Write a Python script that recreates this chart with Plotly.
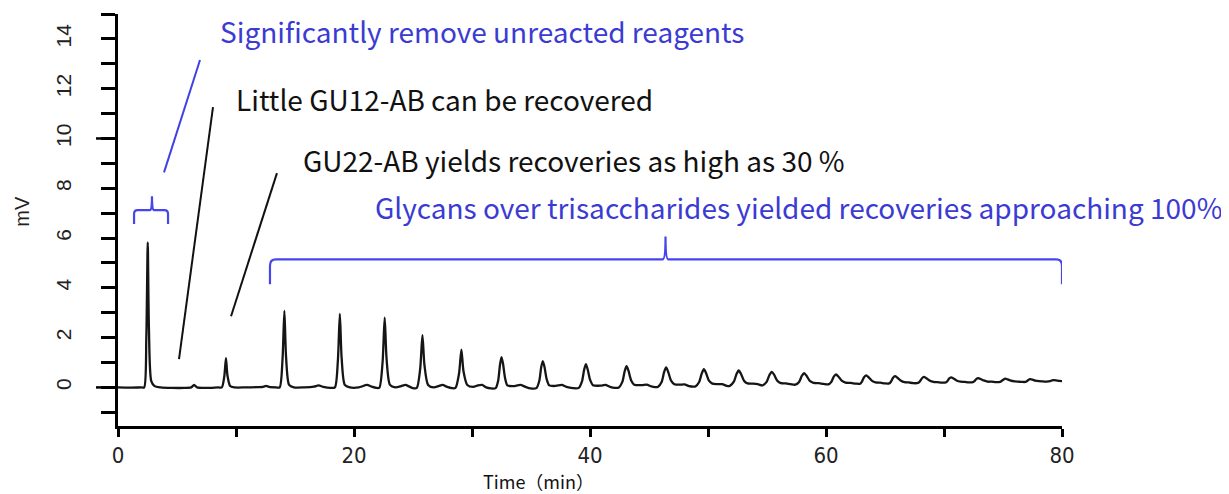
import plotly.graph_objects as go

# ---------------- data ----------------
time_min = [
    0.0, 1.0, 2.0,
    2.22, 2.40, 2.52, 2.62, 2.82, 3.1,
    3.6, 4.6, 5.6, 6.2, 6.45, 6.7, 7.6, 8.5,
    8.8, 9.01, 9.15, 9.27, 9.5, 9.85,
    10.8, 11.8, 12.3, 12.55, 12.8, 13.4,
    13.7, 13.94, 14.1, 14.24, 14.5, 14.9,
    15.8, 16.6, 17.0, 17.4, 18.0,
    18.38, 18.63, 18.8, 18.95, 19.22, 19.64,
    20.4, 21.1, 21.5, 21.9,
    22.15, 22.42, 22.6, 22.76, 23.05, 23.5,
    24.0, 24.35, 24.7, 25.0,
    25.32, 25.61, 25.8, 25.97, 26.28, 26.76,
    27.2, 27.5, 27.9, 28.3,
    28.6, 28.9, 29.1, 29.28, 29.6, 30.1,
    30.5, 30.85, 31.2, 31.6,
    32.0, 32.22, 32.37, 32.5, 32.63, 32.8, 33.0, 33.5, 34.1, 34.5, 34.95,
    35.45, 35.7, 35.86, 36.0, 36.14, 36.33, 36.55, 37.1, 37.6, 38.0, 38.55,
    39.05, 39.32, 39.5, 39.65, 39.8, 40.01, 40.25, 40.9, 41.3, 41.7, 42.1,
    42.45, 42.74, 42.94, 43.1, 43.26, 43.49, 43.75, 44.4, 44.8, 45.2, 45.5,
    45.75, 46.07, 46.28, 46.45, 46.62, 46.87, 47.15, 47.6, 48.0, 48.4, 48.75,
    48.93, 49.25, 49.47, 49.65, 49.83, 50.08, 50.37, 50.8, 51.2, 51.6,
    51.85, 52.19, 52.41, 52.6, 52.79, 53.05, 53.35, 53.8, 54.2, 54.55,
    54.62, 54.97, 55.2, 55.4, 55.6, 55.87, 56.18, 56.6, 57.0,
    57.4, 57.72, 57.95, 58.15, 58.35, 58.63, 58.95, 59.4, 59.8,
    60.25, 60.45, 60.66, 60.85, 61.05, 61.33, 61.65, 62.1, 62.55,
    62.9, 63.03, 63.21, 63.4, 63.6, 63.88, 64.2, 64.6, 65.0,
    65.35, 65.5, 65.67, 65.85, 66.05, 66.32, 66.65, 67.0, 67.4,
    67.8, 67.95, 68.12, 68.3, 68.5, 68.77, 69.1, 69.45, 69.8,
    70.15, 70.28, 70.43, 70.6, 70.8, 71.06, 71.4, 71.75, 72.1,
    72.45, 72.58, 72.73, 72.9, 73.1, 73.36, 73.7, 74.05, 74.4,
    74.75, 74.88, 75.03, 75.2, 75.4, 75.66, 76.0, 76.3, 76.6,
    76.9, 77.02, 77.15, 77.3, 77.5, 77.74, 78.05, 78.4, 78.7,
    79.0, 79.15, 79.3, 79.5, 79.75, 80.0,
]
signal_mv = [
    0.0, -0.01, 0.0,
    0.0, 2.0, 5.83, 2.4, 0.25, 0.05,
    0.0, -0.02, -0.02, 0.0, 0.1, 0.0, -0.02, 0.0,
    0.0, 0.45, 1.18, 0.5, 0.06, 0.0,
    0.0, 0.01, 0.02, 0.06, 0.02, 0.0,
    0.0, 1.1, 3.07, 1.25, 0.1, 0.0,
    0.0, 0.03, 0.08, 0.02, -0.02,
    0.0, 1.05, 2.95, 1.2, 0.1, 0.0,
    0.0, 0.1, 0.03, -0.02,
    -0.01, 1.0, 2.8, 1.15, 0.1, 0.0,
    0.05, 0.1, 0.03, -0.03,
    -0.02, 0.75, 2.1, 0.9, 0.1, 0.0,
    0.06, 0.1, 0.02, -0.03,
    -0.02, 0.55, 1.52, 0.65, 0.1, 0.02,
    0.08, 0.1, 0.0, -0.04,
    -0.03, 0.28, 0.90, 1.22, 0.95, 0.38, 0.08, 0.05, 0.10, 0.03, -0.04,
    -0.03, 0.26, 0.80, 1.06, 0.83, 0.33, 0.08, 0.06, 0.10, 0.02, -0.03,
    -0.02, 0.24, 0.70, 0.93, 0.73, 0.30, 0.09, 0.07, 0.10, 0.02, -0.02,
    0.00, 0.22, 0.65, 0.85, 0.67, 0.28, 0.11, 0.09, 0.11, 0.04, 0.01,
    0.02, 0.22, 0.61, 0.80, 0.63, 0.27, 0.13, 0.11, 0.12, 0.05, 0.03,
    0.04, 0.22, 0.56, 0.73, 0.58, 0.27, 0.15, 0.13, 0.13, 0.06,
    0.06, 0.23, 0.53, 0.68, 0.55, 0.27, 0.16, 0.15, 0.13, 0.08,
    0.08, 0.22, 0.49, 0.62, 0.51, 0.27, 0.17, 0.16, 0.13,
    0.11, 0.22, 0.46, 0.57, 0.47, 0.26, 0.18, 0.17, 0.14,
    0.13, 0.22, 0.43, 0.52, 0.44, 0.27, 0.19, 0.18, 0.15,
    0.15, 0.22, 0.40, 0.48, 0.41, 0.27, 0.20, 0.19, 0.16,
    0.16, 0.23, 0.38, 0.45, 0.39, 0.28, 0.21, 0.20, 0.17,
    0.18, 0.24, 0.36, 0.42, 0.37, 0.28, 0.22, 0.21, 0.19,
    0.20, 0.25, 0.35, 0.40, 0.36, 0.28, 0.23, 0.22, 0.20,
    0.21, 0.25, 0.33, 0.37, 0.34, 0.28, 0.23, 0.23, 0.21,
    0.22, 0.26, 0.31, 0.35, 0.32, 0.27, 0.24, 0.23, 0.22,
    0.22, 0.25, 0.30, 0.33, 0.31, 0.27, 0.25, 0.24, 0.23,
    0.25, 0.28, 0.29, 0.28, 0.26, 0.25,
]

x_tick_labels = ["0", "20", "40", "60", "80"]
y_tick_labels = ["0", "2", "4", "6", "8", "10", "12", "14"]

note_texts = [
    "Significantly remove unreacted reagents",
    "Little GU12-AB can be recovered",
    "GU22-AB yields recoveries as high as 30 %",
    "Glycans over trisaccharides yielded recoveries approaching 100%",
]
note_x = [8.5, 9.86, 15.54, 21.64]       # min (left edge)
note_y = [14.3, 11.58, 9.13, 7.24]       # mV (centre)
note_colors = ["#3b3bd3", "#111111", "#111111", "#3b3bd3"]

# leader lines (min, mV)
leader_x0 = [3.9, 5.17, 9.58]
leader_y0 = [8.64, 1.14, 2.86]
leader_x1 = [6.95, 8.05, 13.47]
leader_y1 = [13.15, 11.26, 8.61]
leader_colors = ["#4040e6", "#111111", "#111111"]

# braces (min, mV)
brace_small = dict(x_left=1.36, x_mid=2.88, x_right=4.24, y_foot=6.56, y_bar=7.12, y_tip=7.68)
brace_big = dict(x_left=12.88, x_mid=46.4, x_right=80.0, y_foot=4.14, y_bar=5.14, y_tip=6.06)

BLUE = "#4646ec"

fig = go.Figure()
fig.add_trace(go.Scatter(
    x=time_min, y=signal_mv, mode="lines",
    line=dict(color="#151515", width=2.3, shape="spline", smoothing=0.7),
    hoverinfo="skip",
))

for x0, y0, x1, y1, c in zip(leader_x0, leader_y0, leader_x1, leader_y1, leader_colors):
    fig.add_shape(type="line", xref="x", yref="y", x0=x0, y0=y0, x1=x1, y1=y1,
                  line=dict(color=c, width=2))


def brace_path(b, r):
    xl, xm, xr = b["x_left"], b["x_mid"], b["x_right"]
    yf, yb, yt = b["y_foot"], b["y_bar"], b["y_tip"]
    return (f"M{xl},{yf} L{xl},{yb - r} Q{xl},{yb} {xl + r * 2},{yb} "
            f"L{xm - r},{yb} Q{xm},{yb} {xm},{yt} Q{xm},{yb} {xm + r},{yb} "
            f"L{xr - r * 2},{yb} Q{xr},{yb} {xr},{yb - r} L{xr},{yf}")


fig.add_shape(type="path", xref="x", yref="y", path=brace_path(brace_small, 0.15),
              line=dict(color=BLUE, width=2.2))
fig.add_shape(type="path", xref="x", yref="y", path=brace_path(brace_big, 0.25),
              line=dict(color=BLUE, width=2.2))

# longer ticks at 0 and 10
for yv in [0, 10]:
    fig.add_shape(type="line", xref="paper", yref="y", xsizemode="pixel", xanchor=0,
                  x0=-22, x1=0, y0=yv, y1=yv, line=dict(color="black", width=2.5))

for t, x, y, c in zip(note_texts, note_x, note_y, note_colors):
    fig.add_annotation(x=x, y=y, xref="x", yref="y", text=t, showarrow=False,
                       xanchor="left", yanchor="middle",
                       font=dict(family="Noto Sans CJK SC", size=28, color=c))

fig.add_annotation(x=35.6, y=0, xref="x", yref="paper", yshift=-55, text="Time（min）",
                   showarrow=False, xanchor="center", yanchor="middle",
                   font=dict(family="Noto Sans CJK SC", size=18, color="#111111"))
fig.add_annotation(x=0, y=0.52, xref="paper", yref="paper", xshift=-96, text="mV",
                   textangle=-90, showarrow=False, xanchor="center", yanchor="middle",
                   font=dict(family="Liberation Sans", size=20, color="#222222"))

fig.update_xaxes(
    range=[0, 80], showline=True, linecolor="black", linewidth=3,
    tickmode="array", tickvals=[0, 20, 40, 60, 80], ticktext=x_tick_labels,
    ticks="outside", ticklen=8, tickwidth=2.5, tickcolor="black",
    minor=dict(dtick=10, tick0=0, ticks="outside", ticklen=8, tickwidth=2.5, tickcolor="black"),
    showgrid=False, zeroline=False,
    tickfont=dict(family="Liberation Sans Narrow, DejaVu Sans Condensed", size=22, color="#222222"),
)
fig.update_yaxes(
    range=[-1.55, 15], showline=True, linecolor="black", linewidth=3,
    tickmode="array", tickvals=[0, 2, 4, 6, 8, 10, 12, 14], ticktext=y_tick_labels,
    ticks="outside", ticklen=14, tickwidth=2.5, tickcolor="black",
    minor=dict(dtick=1, tick0=0, ticks="outside", ticklen=14, tickwidth=2.5, tickcolor="black"),
    showgrid=False, zeroline=False, tickangle=-90, ticklabelstandoff=22,
    tickfont=dict(family="Liberation Sans", size=21, color="#222222"),
)
# the page body adds an 8 px offset, so margins are shifted to keep the plot in place
fig.update_layout(
    width=1229, height=494, margin=dict(l=110, r=175, t=6, b=76),
    plot_bgcolor="white", paper_bgcolor="white", showlegend=False,
)
fig.write_html("out.html")
